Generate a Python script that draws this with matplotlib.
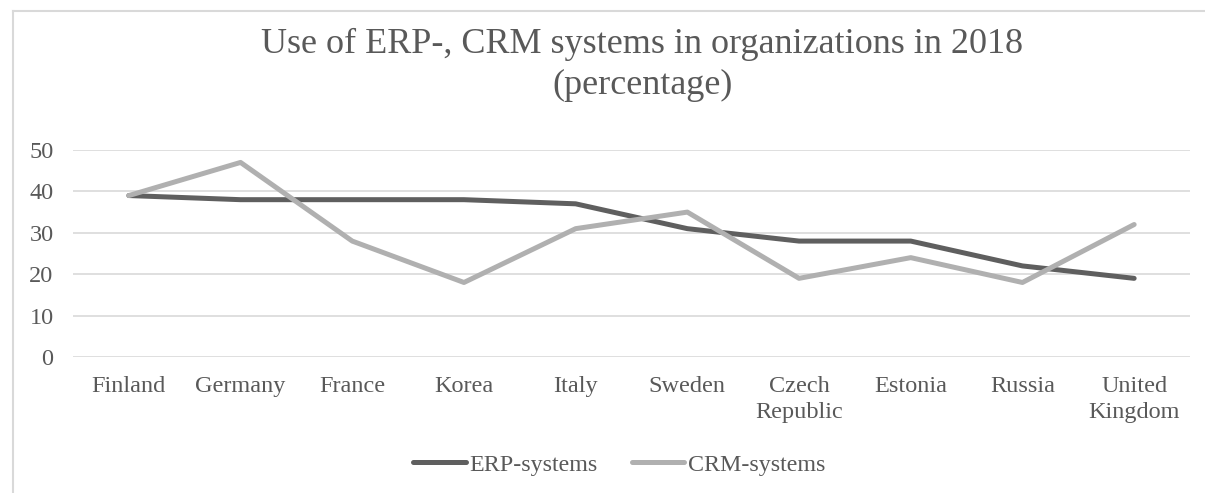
import matplotlib.pyplot as plt
from matplotlib.lines import Line2D

countries = ["Finland", "Germany", "France", "Korea", "Italy", "Sweden",
             "Czech\nRepublic", "Estonia", "Russia", "United\nKingdom"]
erp = [39, 38, 38, 38, 37, 31, 28, 28, 22, 19]
crm = [39, 47, 28, 18, 31, 35, 19, 24, 18, 32]
yticks = [0, 10, 20, 30, 40, 50]

plt.rcParams['font.family'] = ['Liberation Serif', 'DejaVu Serif']
text_col = "#595959"

fig = plt.figure(figsize=(12.05, 4.93), dpi=100)
ax = fig.add_axes([73 / 1205, 1 - 357 / 493, (1190 - 73) / 1205, (357 - 150) / 493])

x = range(len(countries))
ax.plot(x, erp, color="#5f5f5f", lw=3.6, solid_capstyle="round", solid_joinstyle="round",
        label="ERP-systems", zorder=3)
ax.plot(x, crm, color="#b0b0b0", lw=3.6, solid_capstyle="round", solid_joinstyle="round",
        label="CRM-systems", zorder=3)

ax.set_xlim(-0.5, len(countries) - 0.5)
ax.set_ylim(0, 50)
ax.set_yticks(yticks)
ax.set_xticks(list(x))
ax.set_xticklabels(countries, fontsize=17.5, color=text_col, linespacing=1.3)
ax.tick_params(axis="y", labelsize=17.5, labelcolor=text_col, length=0, pad=14)
ax.tick_params(axis="x", length=0, pad=14)
ax.grid(axis="y", color="#d9d9d9", lw=1.2, zorder=0)
for s in ax.spines.values():
    s.set_visible(False)
for ln in ax.get_lines():
    ln.set_clip_on(False)

fig.text(0.533, 1 - 64.5 / 493, "Use of ERP-, CRM systems in organizations in 2018\n(percentage)",
         ha="center", va="center", fontsize=26, color=text_col, linespacing=1.32)

handles = [Line2D([], [], color="#5f5f5f", lw=3.6, solid_capstyle="round"),
           Line2D([], [], color="#b0b0b0", lw=3.6, solid_capstyle="round")]
fig.legend(handles, ["ERP-systems", "CRM-systems"], loc="center",
           bbox_to_anchor=(0.514, 1 - 465 / 493), ncol=2, frameon=False,
           fontsize=17.3, labelcolor=text_col, handlelength=2.2, handletextpad=0.15,
           columnspacing=1.4)

# outer chart border (left and top edges visible)
fig.add_artist(Line2D([12.5 / 1205, 12.5 / 1205], [0, 1 - 11 / 493], color="#d9d9d9", lw=1.5))
fig.add_artist(Line2D([12.5 / 1205, 1], [1 - 11 / 493, 1 - 11 / 493], color="#d9d9d9", lw=1.5))

fig.savefig("out.png", dpi=100)
